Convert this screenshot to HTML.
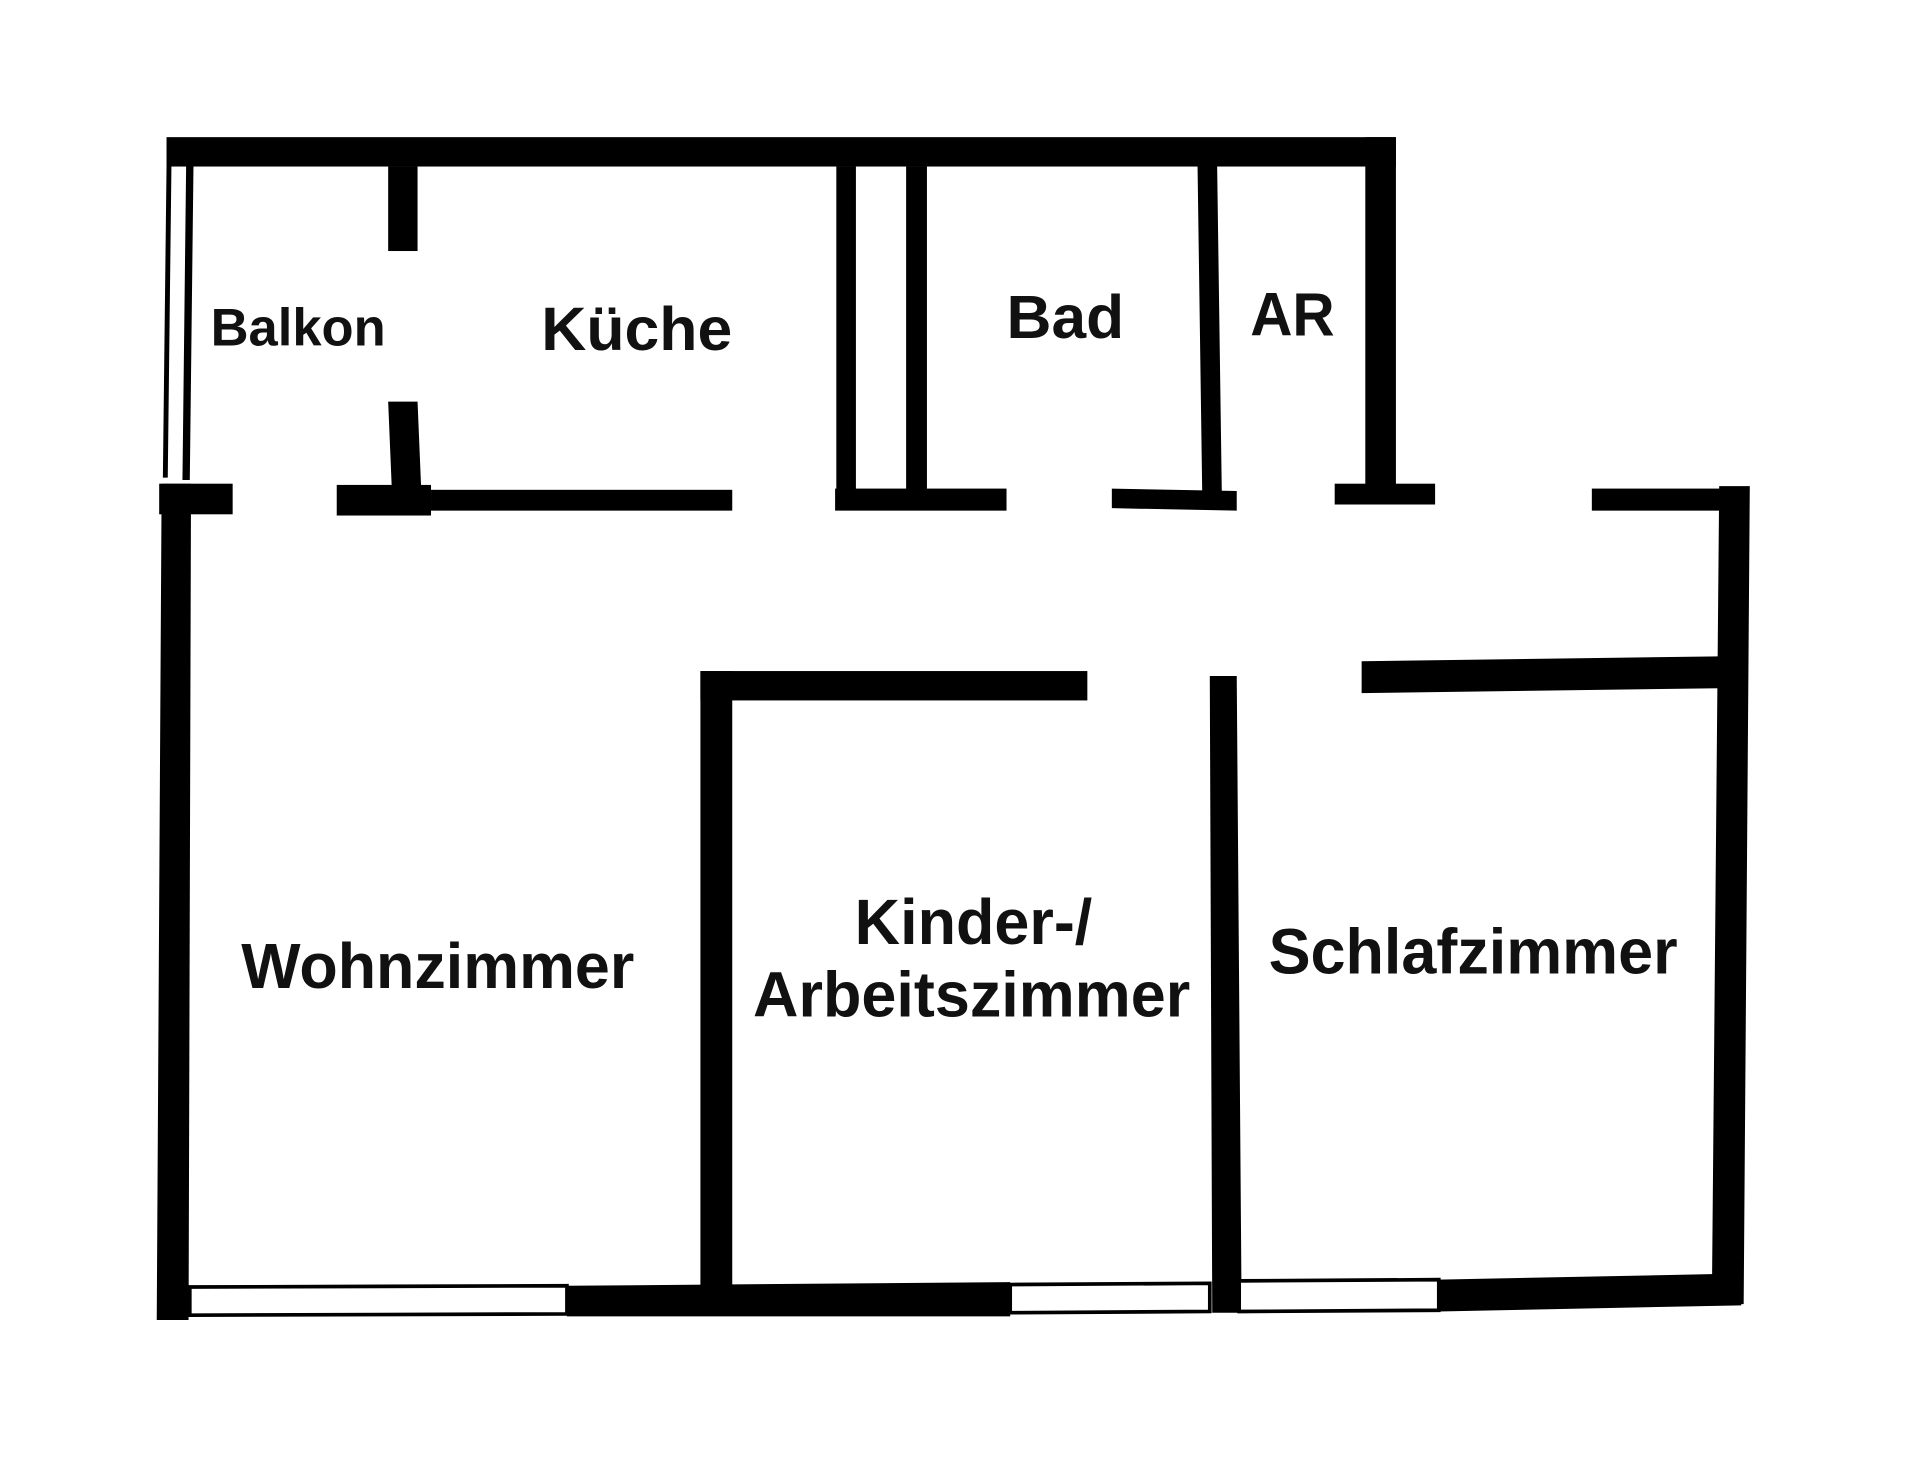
<!DOCTYPE html>
<html><head><meta charset="utf-8"><style>
html,body{margin:0;padding:0;background:#fff;width:1920px;height:1467px;overflow:hidden}
svg{display:block}
text{font-family:"Liberation Sans",Arial,sans-serif;font-weight:bold;fill:#111}
</style></head><body>
<svg width="1920" height="1467" viewBox="0 0 1568 1198" preserveAspectRatio="none">
<rect width="1568" height="1198" fill="#fff"/>
<g fill="#000">
<rect x="136" y="112" width="1004" height="24"/>
<polygon points="136,136 140,136 137,390 133,390"/>
<polygon points="152,136 158,136 155,392 149,392"/>
<rect x="317" y="136" width="24" height="69"/>
<polygon points="317,328 341,328 344,400 320,400"/>
<rect x="130" y="395" width="60" height="25"/>
<rect x="275" y="396" width="77" height="25"/>
<rect x="352" y="400" width="246" height="17"/>
<rect x="682" y="399" width="140" height="18"/>
<polygon points="908,399 1010,401 1010,417 908,415"/>
<rect x="1090" y="395" width="82" height="17"/>
<rect x="1300" y="399" width="128" height="18"/>
<rect x="683" y="136" width="16" height="280"/>
<rect x="740" y="136" width="17" height="280"/>
<polygon points="978,136 994,136 998,416 982,416"/>
<rect x="1115" y="112" width="25" height="290"/>
<polygon points="132,395 156,395 154,1078 128,1078"/>
<polygon points="1404,397 1429,397 1424,1065 1398,1065"/>
<rect x="572" y="548" width="316" height="24"/>
<rect x="572" y="548" width="26" height="512"/>
<polygon points="988,552 1010,552 1014,1072 990,1072"/>
<polygon points="1112,540 1404,536 1404,562 1112,566"/>
<polygon points="463,1050 825,1047 825,1075 463,1075"/>
<polygon points="1175,1045 1422,1040 1422,1066 1175,1071"/>
</g>
<g fill="#fff" stroke="#000" stroke-width="3">
<polygon points="155,1051 463,1050 463,1073 155,1074"/>
<polygon points="825,1049 988,1048 988,1071 825,1072"/>
<polygon points="1012,1046 1175,1045 1175,1070 1012,1071"/>
</g>
<text x="172" y="282" font-size="43" textLength="143" lengthAdjust="spacingAndGlyphs">Balkon</text>
<text x="442" y="286" font-size="50" textLength="156" lengthAdjust="spacingAndGlyphs">Küche</text>
<text x="822" y="276" font-size="50" textLength="96" lengthAdjust="spacingAndGlyphs">Bad</text>
<text x="1021" y="274" font-size="50" textLength="69" lengthAdjust="spacingAndGlyphs">AR</text>
<text x="197" y="807" font-size="52" textLength="321" lengthAdjust="spacingAndGlyphs">Wohnzimmer</text>
<text x="698" y="771" font-size="52" textLength="194" lengthAdjust="spacingAndGlyphs">Kinder-/</text>
<text x="615" y="830" font-size="52" textLength="357" lengthAdjust="spacingAndGlyphs">Arbeitszimmer</text>
<text x="1036" y="795" font-size="52" textLength="334" lengthAdjust="spacingAndGlyphs">Schlafzimmer</text>
</svg>
</body></html>
